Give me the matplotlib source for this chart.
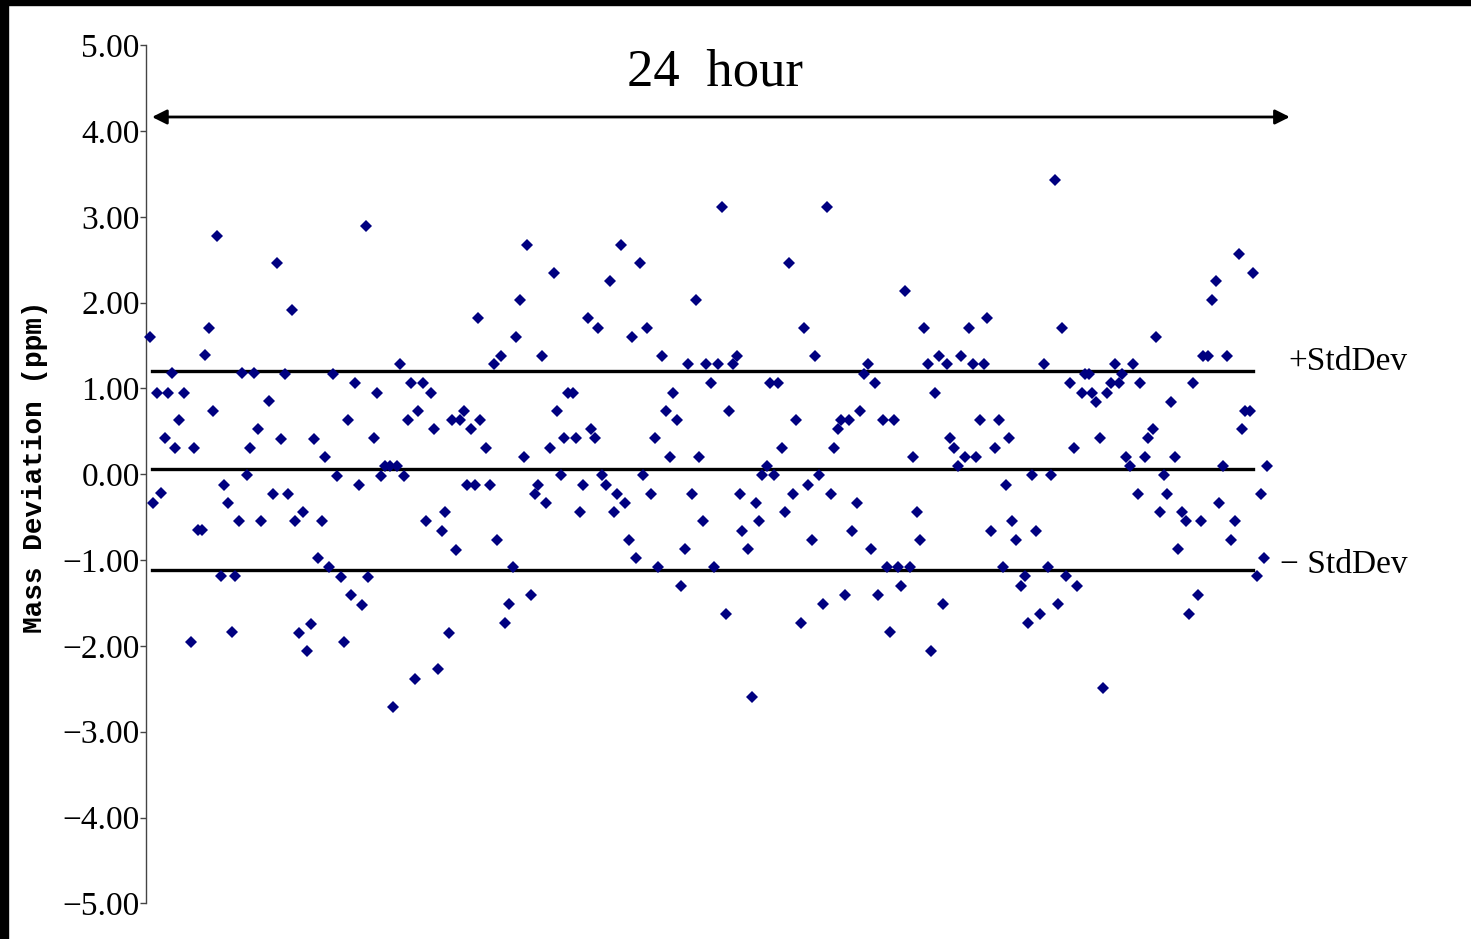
import matplotlib.pyplot as plt
from matplotlib.patches import Rectangle

# Acquisition time (h) and mass deviation (ppm) of each measurement
hours = [
    0.02, 0.09, 0.17, 0.25, 0.34, 0.41, 0.50, 0.56, 0.65, 0.74,
    0.89, 0.97, 1.04, 1.13, 1.21, 1.29, 1.37, 1.45, 1.54, 1.61,
    1.70, 1.77, 1.85, 1.94, 2.00, 2.10, 2.17, 2.26, 2.33, 2.41,
    2.58, 2.67, 2.74, 2.83, 2.91, 2.98, 3.06, 3.14, 3.22, 3.30,
    3.38, 3.47, 3.54, 3.63, 3.71, 3.78, 3.87, 3.94, 4.03, 4.11,
    4.18, 4.27, 4.34, 4.42, 4.51, 4.58, 4.65, 4.70,
    4.83, 4.90, 4.98, 5.06, 5.17, 5.24, 5.32, 5.39, 5.48, 5.55,
    5.62, 5.71, 5.78, 5.88, 5.94, 6.04, 6.12, 6.19, 6.28, 6.35,
    6.44, 6.51, 6.59, 6.67, 6.75, 6.82, 6.91, 7.00, 7.05, 7.10,
    7.23, 7.31, 7.40, 7.47, 7.55, 7.64, 7.72, 7.80, 7.88, 7.96,
    8.04, 8.12, 8.20, 8.28, 8.35, 8.44, 8.52, 8.61, 8.68, 8.76,
    8.84, 8.91, 9.00, 9.10, 9.16, 9.25, 9.32, 9.41, 9.49, 9.56,
    9.64, 9.71, 9.81, 9.89,
    9.98, 10.05, 10.12, 10.21, 10.29, 10.36, 10.45, 10.53, 10.61, 10.69,
    10.77, 10.85, 10.93, 11.01, 11.09, 11.17, 11.25, 11.34, 11.41, 11.50,
    11.57, 11.66, 11.74, 11.81, 11.89, 11.96, 12.05, 12.13, 12.21, 12.30,
    12.38, 12.45, 12.53, 12.62, 12.68, 12.73,
    12.86, 12.93, 13.02, 13.09, 13.16, 13.26, 13.33, 13.42, 13.50, 13.58,
    13.65, 13.74, 13.82, 13.89, 13.98, 14.06, 14.14, 14.22, 14.30, 14.38,
    14.46, 14.54, 14.63, 14.69, 14.79, 14.84, 14.94, 15.03, 15.09, 15.19,
    15.26, 15.34, 15.43, 15.49, 15.58, 15.64,
    15.76, 15.83, 15.90, 15.99, 16.07, 16.14, 16.23, 16.32, 16.39, 16.47,
    16.55, 16.62, 16.72, 16.79, 16.87, 16.95, 17.03, 17.12, 17.19, 17.27,
    17.35, 17.42, 17.51, 17.59, 17.68, 17.75, 17.83, 17.92, 17.99, 18.07,
    18.15, 18.23, 18.32, 18.39, 18.46, 18.52, 18.61,
    18.71, 18.80, 18.87, 18.95, 19.03, 19.11, 19.21, 19.29, 19.36, 19.44,
    19.51, 19.60, 19.67, 19.76, 19.84, 19.92, 20.01, 20.08, 20.16, 20.24,
    20.32, 20.41, 20.48, 20.56, 20.64, 20.72, 20.82, 20.88, 20.97, 21.05,
    21.12, 21.22, 21.27, 21.37, 21.44,
    21.54, 21.61, 21.69, 21.77, 21.85, 21.93, 22.01, 22.09, 22.17, 22.25,
    22.32, 22.41, 22.50, 22.57, 22.62, 22.73, 22.81, 22.90, 22.97, 23.04,
    23.13, 23.21, 23.30, 23.38, 23.45, 23.52, 23.63, 23.70, 23.77, 23.86,
    23.93, 24.00,
]
deviation = [
    1.60, -0.33, 0.95, -0.22, 0.42, 0.95, 1.18, 0.31, 0.63, 0.95,
    -1.95, 0.31, -0.65, -0.65, 1.39, 1.71, 0.74, 2.78, -1.19, -0.12,
    -0.33, -1.84, -1.19, -0.55, 1.18, -0.01, 0.31, 1.18, 0.53, -0.55,
    0.85, -0.23, 2.46, 0.41, 1.17, -0.23, 1.92, -0.55, -1.85, -0.44,
    -2.06, -1.74, 0.41, -0.98, -0.55, 0.20, -1.08, 1.17, -0.02, -1.20,
    -1.96, 0.63, -1.41, 1.06, -0.13, -1.52, 2.89, -1.20,
    0.42, 0.95, -0.02, 0.10, 0.10, -2.71, 0.10, 1.28, -0.02, 0.63,
    1.06, -2.38, 0.74, 1.06, -0.55, 0.95, 0.53, -2.27, -0.66, -0.44,
    -1.85, 0.63, -0.88, 0.63, 0.74, -0.13, 0.53, -0.13, 1.82, 0.63,
    0.31, -0.12, 1.28, -0.76, 1.38, -1.73, -1.51, -1.08, 1.60, 2.03,
    0.20, 2.67, -1.41, -0.23, -0.12, 1.38, -0.34, 0.31, 2.35, 0.74,
    -0.01, 0.42, 0.95, 0.95, 0.42, -0.44, -0.12, 1.82, 0.53, 0.42,
    1.71, -0.01, -0.12, 2.25,
    -0.44, -0.23, 2.67, -0.34, -0.76, 1.60, -0.98, 2.46, -0.01, 1.71,
    -0.23, 0.42, -1.08, 1.38, 0.74, 0.20, 0.95, 0.63, -1.30, -0.87,
    1.28, -0.23, 2.03, 0.20, -0.55, 1.28, 1.06, -1.08, 1.28, 3.11,
    -1.63, 0.74, 1.28, 1.38, -0.23, -0.66,
    -0.87, -2.60, -0.34, -0.55, -0.01, 0.10, 1.06, -0.01, 1.06, 0.31,
    -0.44, 2.46, -0.23, 0.63, -1.73, 1.71, -0.12, -0.76, 1.38, -0.01,
    -1.51, 3.11, -0.23, 0.31, 0.53, 0.63, -1.41, 0.63, -0.66, -0.34,
    0.74, 1.17, 1.28, -0.87, 1.06, -1.41,
    0.63, -1.08, -1.84, 0.63, -1.08, -1.30, 2.14, -1.08, 0.20, -0.44,
    -0.76, 1.71, 1.28, -2.06, 0.95, 1.38, -1.51, 1.28, 0.42, 0.31,
    0.10, 1.38, 0.20, 1.71, 1.28, 0.20, 0.63, 1.28, 1.82, -0.66,
    0.31, 0.63, -1.08, -0.12, 0.42, -0.55, -0.76,
    -1.30, -1.19, -1.73, -0.01, -0.66, -1.63, 1.28, -1.08, -0.01, 3.43,
    -1.51, 1.71, -1.19, 1.06, 0.31, -1.30, 0.95, 1.17, 1.17, 0.95,
    0.84, 0.42, -2.49, 0.95, 1.06, 1.28, 1.06, 1.17, 0.20, 0.10,
    1.28, -0.23, 1.06, 0.20, 0.42,
    0.53, 1.60, -0.44, -0.01, -0.23, 0.84, 0.20, -0.87, -0.44, -0.55,
    -1.63, 1.06, -1.41, -0.55, 1.38, 1.38, 2.03, 2.25, -0.34, 0.10,
    1.38, -0.76, -0.55, 2.57, 0.53, 0.74, 0.74, 2.35, -1.19, -0.23,
    -0.98, 0.10,
]

# Mean and +/- one standard deviation (ppm)
mean_dev = 0.06
upper_std = 1.20
lower_std = -1.12
y_ticks = [-5, -4, -3, -2, -1, 0, 1, 2, 3, 4, 5]

fig = plt.figure(figsize=(14.71, 9.39), dpi=100)
fig.patches.append(Rectangle((0, 0.9947), 1, 0.0053, transform=fig.transFigure,
                             color='black', zorder=0))
fig.patches.append(Rectangle((0, 0), 0.0055, 1, transform=fig.transFigure,
                             color='black', zorder=0))

ax = fig.add_axes([0.0993, 0.038, 0.7845, 0.9138])
ax.set_xlim(-0.064, 24.70)
ax.set_ylim(-5, 5)

for side in ['top', 'right', 'bottom']:
    ax.spines[side].set_visible(False)
ax.spines['left'].set_color('#444444')
ax.spines['left'].set_linewidth(1.0)
ax.set_xticks([])
ax.set_yticks(y_ticks)
ax.set_yticklabels(['%.2f' % v if v >= 0 else '\u2212%.2f' % -v for v in y_ticks],
                   fontfamily='Liberation Serif', fontsize=24)
ax.tick_params(axis='y', direction='out', length=4.5, width=1.0,
               color='#444444', pad=0)

# Mean and standard deviation bands
for level in [upper_std, mean_dev, lower_std]:
    ax.plot([0.064, 23.69], [level, level], color='black', lw=2.4, zorder=2)

ax.plot(hours, deviation, linestyle='none', marker='D', markersize=6.0,
        markerfacecolor='#000080', markeredgewidth=0, zorder=3, clip_on=False)

# Time span arrow
ax.annotate('', xy=(24.48, 4.164), xytext=(0.064, 4.164),
            arrowprops=dict(arrowstyle='<|-|>', color='black', lw=2,
                            mutation_scale=22, shrinkA=0, shrinkB=0),
            annotation_clip=False)
ax.text(12.15, 4.68, '24  hour', ha='center', va='center',
        fontfamily='Liberation Serif', fontsize=38)

ax.text(24.44, 1.31, '+StdDev', ha='left', va='center',
        fontfamily='Liberation Serif', fontsize=24, clip_on=False)
ax.text(24.27, -1.06, '\u2212 StdDev', ha='left', va='center',
        fontfamily='Liberation Serif', fontsize=24, clip_on=False)

fig.text(0.024, 0.503, 'Mass Deviation (ppm)', rotation=90, ha='center',
         va='center', fontfamily='Liberation Mono', fontsize=20,
         fontweight='bold')

plt.savefig('out.png', dpi=100)
